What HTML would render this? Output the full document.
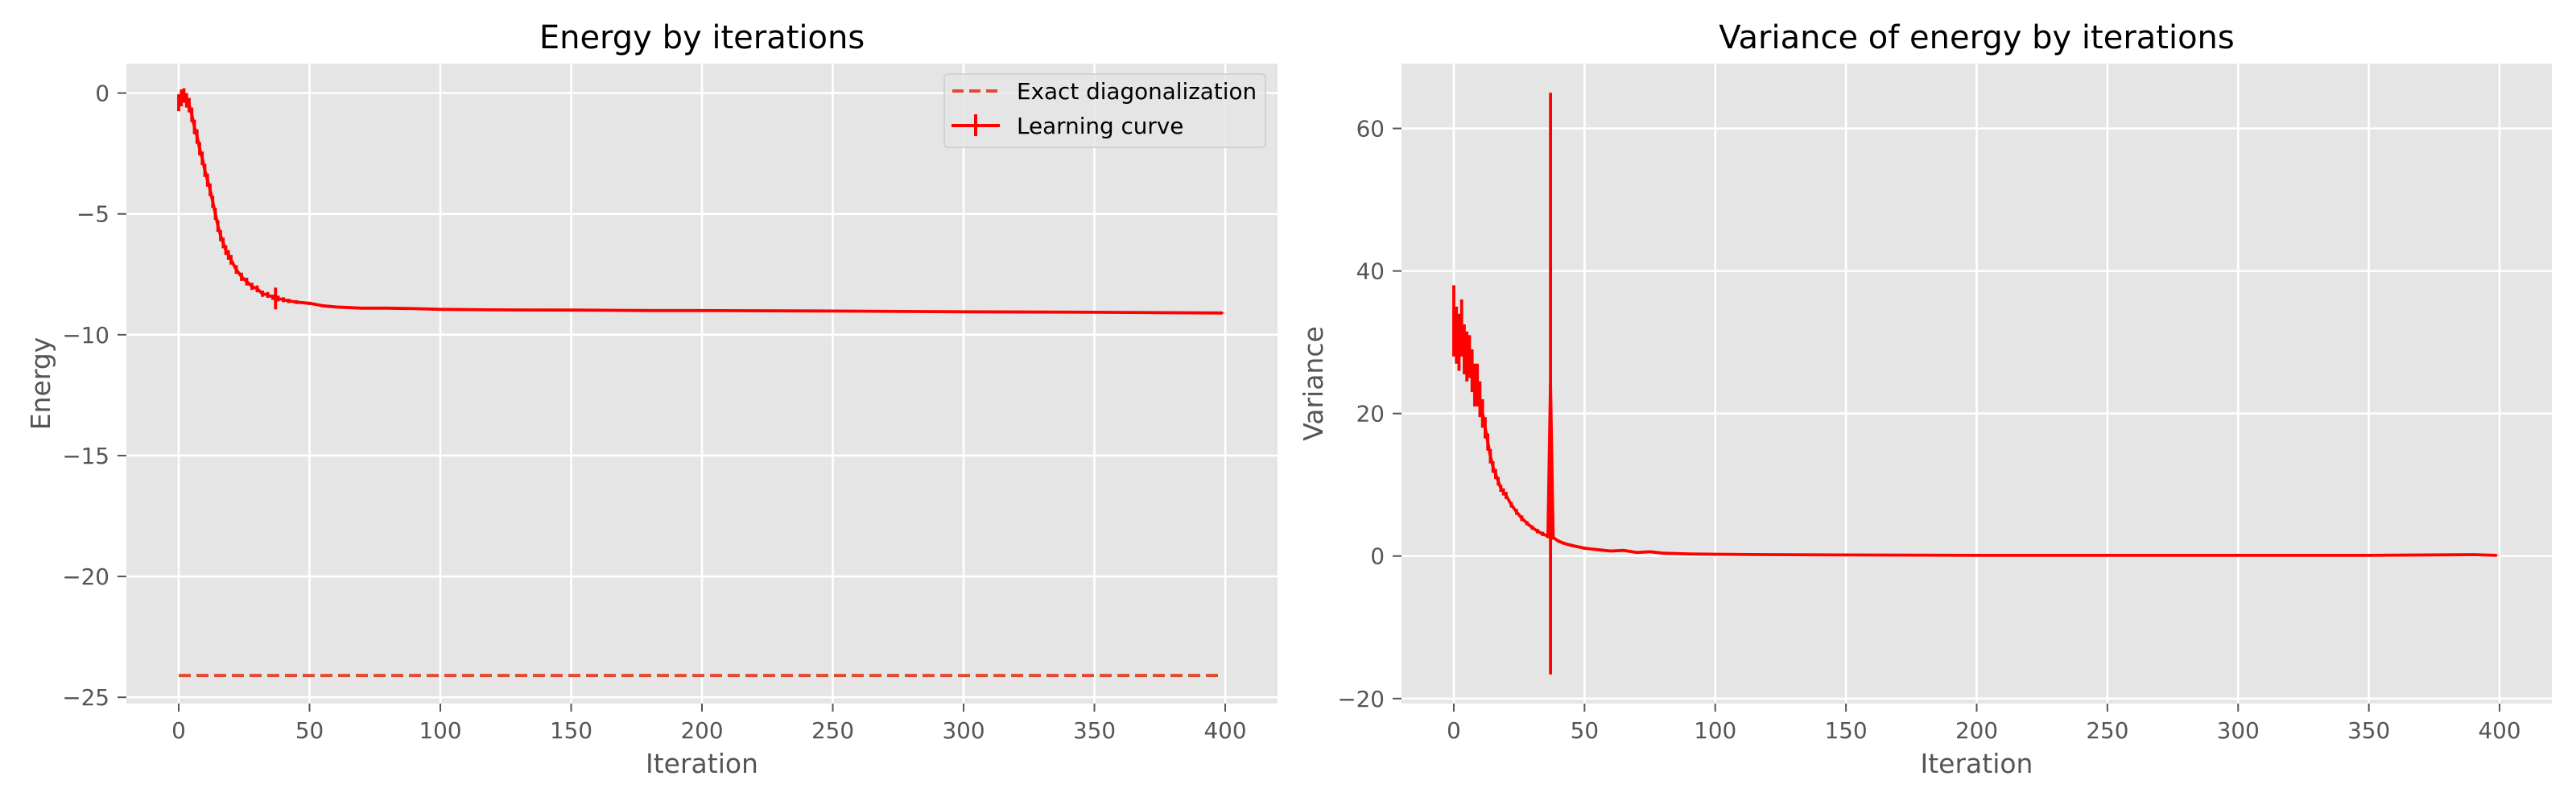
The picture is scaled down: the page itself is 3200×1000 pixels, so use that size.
<!DOCTYPE html>
<html><head><meta charset="utf-8">
<style>
html,body{margin:0;padding:0;background:#fff;}
svg{display:block;}
text{font-family:"DejaVu Sans","Liberation Sans",sans-serif;}
</style></head>
<body>
<svg id="fig" width="3200" height="1000" viewBox="0 0 3200 1000" xmlns="http://www.w3.org/2000/svg"></svg>
<script>
// ---- data: energy (left) ----
const energyIter = [0,1,2,3,4,5,6,7,8,9,10,11,12,13,14,15,16,17,18,19,20,22,24,26,28,30,32,34,36,37,38,40,42,45,50,55,60,70,80,90,100,120,150,180,200,250,300,350,399];
const energyVals = [-0.4,-0.2,-0.1,-0.3,-0.5,-0.9,-1.4,-1.8,-2.3,-2.7,-3.2,-3.6,-4.0,-4.5,-5.0,-5.5,-5.9,-6.2,-6.5,-6.7,-6.9,-7.3,-7.6,-7.8,-8.0,-8.1,-8.3,-8.35,-8.45,-8.5,-8.5,-8.55,-8.6,-8.65,-8.7,-8.8,-8.85,-8.9,-8.9,-8.92,-8.95,-8.97,-8.98,-9.0,-9.0,-9.02,-9.05,-9.07,-9.1];
const energyErr = [0.35,0.35,0.3,0.3,0.3,0.3,0.3,0.3,0.28,0.28,0.27,0.27,0.26,0.25,0.25,0.24,0.23,0.22,0.2,0.2,0.2,0.18,0.17,0.16,0.15,0.14,0.13,0.12,0.11,0.45,0.12,0.1,0.09,0.08,0.07,0.06,0.05,0.04,0.03,0.03,0.03,0.02,0.02,0.02,0.02,0.02,0.02,0.02,0.02];
const exactEnergy = -24.1;
const exactRange = [0, 399];
// ---- data: variance (right) ----
const varIter = [0,1,2,3,4,5,6,7,8,9,10,11,12,13,14,15,16,17,18,19,20,22,24,26,28,30,32,34,36,37,38,40,42,45,50,55,60,65,70,75,80,90,100,120,150,200,250,300,350,390,399];
const varVals = [33,31,30,32,29,28,28,26,24,24,22,20,18,16,14,12.5,11.5,10.5,9.5,9,8.5,7.2,6.2,5.3,4.6,4,3.5,3.1,2.8,24.2,2.6,2.1,1.8,1.5,1.1,0.9,0.7,0.8,0.5,0.6,0.4,0.3,0.25,0.2,0.15,0.1,0.1,0.1,0.1,0.2,0.1];
const varErr = [5,4,4,4,3.5,3.5,3,3,3,3,2.5,2,1.5,1.2,1,0.8,0.7,0.6,0.5,0.5,0.5,0.4,0.4,0.4,0.3,0.3,0.3,0.3,0.3,40.8,0.3,0.2,0.2,0.2,0.2,0.15,0.15,0.15,0.1,0.1,0.1,0.1,0.1,0.1,0.05,0.05,0.05,0.05,0.05,0.05,0.05];
// ---- ticks ----
const xTicks = [0,50,100,150,200,250,300,350,400];
const energyTicks = [0,-5,-10,-15,-20,-25];
const varTicks = [-20,0,20,40,60];

const NS = "http://www.w3.org/2000/svg";
const svg = document.getElementById('fig');
function el(tag, attrs, parent){
  const e = document.createElementNS(NS, tag);
  for (const k in attrs) e.setAttribute(k, attrs[k]);
  (parent||svg).appendChild(e);
  return e;
}
function fmt(v){ return v<0 ? '\u2212'+Math.abs(v) : String(v); }

function panel(cfg){
  const {left,right,top,bottom,ymin,ymax,name} = cfg;
  const g = el('g',{});
  
  
  const X = v => left + (v - (-20)) / 440 * (right-left);
  const Y = v => bottom - (v - ymin) / (ymax - ymin) * (bottom-top);
  const bg = el('rect',{x:left,y:top,width:right-left,height:bottom-top,fill:'#e5e5e5'},g);
  
  
  xTicks.forEach(t=>{
    const x = X(t);
    const gl = el('line',{x1:x,x2:x,y1:top,y2:bottom,stroke:'#fff','stroke-width':2.6},g);
    
    
    el('line',{x1:x,x2:x,y1:bottom,y2:bottom+10,stroke:'#555','stroke-width':2},g);
    const tl = el('text',{x:x,y:917,'font-size':27.8,fill:'#555','text-anchor':'middle'},g);
    tl.textContent = fmt(t);
    
    
  });
  cfg.yTicks.forEach(t=>{
    const y = Y(t);
    const gl = el('line',{x1:left,x2:right,y1:y,y2:y,stroke:'#fff','stroke-width':2.6},g);
    
    
    el('line',{x1:left-11,x2:left,y1:y,y2:y,stroke:'#555','stroke-width':2},g);
    const tl = el('text',{x:left-21,y:y+10,'font-size':27.8,fill:'#555','text-anchor':'end'},g);
    tl.textContent = fmt(t);
    
    
  });
  const cx = (left+right)/2, cy=(top+bottom)/2;
  const ti = el('text',{x:cx,y:60,'font-size':40,fill:'#000','text-anchor':'middle'},g);
  ti.textContent = cfg.title;
  
  
  const xl = el('text',{x:cx,y:960,'font-size':33,fill:'#555','text-anchor':'middle'},g);
  xl.textContent = 'Iteration';
  
  
  const yl = el('text',{x:cfg.ylabX,y:cy,'font-size':33,fill:'#555','text-anchor':'middle',transform:`rotate(-90 ${cfg.ylabX} ${cy})`},g);
  yl.textContent = cfg.ylabel;
  
  
  return {g,X,Y};
}

function series(p, xs, ys, es, name){
  const grp = el('g',{},p.g);
  const pts = xs.map((x,i)=>p.X(x).toFixed(1)+','+p.Y(ys[i]).toFixed(1)).join(' ');
  const line = el('polyline',{points:pts,fill:'none',stroke:'#ff0000','stroke-width':3.8,'stroke-linejoin':'round'},grp);
  
  
  xs.forEach((x,i)=>{
    const e = el('line',{x1:p.X(x),x2:p.X(x),y1:p.Y(ys[i]-es[i]),y2:p.Y(ys[i]+es[i]),stroke:'#ff0000','stroke-width':3.8},grp);
    
    
  });
}

const L = panel({left:157,right:1587,top:79,bottom:874,ymin:-25.26,ymax:1.22,yTicks:energyTicks,title:'Energy by iterations',ylabel:'Energy',ylabX:62,name:'energy'});
const ex = el('line',{x1:L.X(exactRange[0]),x2:L.X(exactRange[1]),y1:L.Y(exactEnergy),y2:L.Y(exactEnergy),stroke:'#E24A33','stroke-width':4,'stroke-dasharray':'15,7'},L.g);


series(L, energyIter, energyVals, energyErr, 'learning-curve');

const lg = el('g',{},L.g);


el('rect',{x:1173,y:92,width:399,height:91,rx:5,fill:'#e5e5e5','fill-opacity':0.8,stroke:'#cccccc','stroke-width':1.5},lg);
el('line',{x1:1183,x2:1240,y1:113,y2:113,stroke:'#E24A33','stroke-width':4,'stroke-dasharray':'14,7'},lg);
const t1 = el('text',{x:1263,y:123,'font-size':27.8,fill:'#000'},lg);
t1.textContent='Exact diagonalization';


el('line',{x1:1182,x2:1242,y1:156,y2:156,stroke:'#ff0000','stroke-width':4},lg);
el('line',{x1:1212,x2:1212,y1:142,y2:169,stroke:'#ff0000','stroke-width':4},lg);
const t2 = el('text',{x:1263,y:166,'font-size':27.8,fill:'#000'},lg);
t2.textContent='Learning curve';



const R = panel({left:1741,right:3170,top:79,bottom:874,ymin:-20.7,ymax:69.1,yTicks:varTicks,title:'Variance of energy by iterations',ylabel:'Variance',ylabX:1643,name:'variance'});
series(R, varIter, varVals, varErr, 'variance-curve');
</script>
</body></html>
